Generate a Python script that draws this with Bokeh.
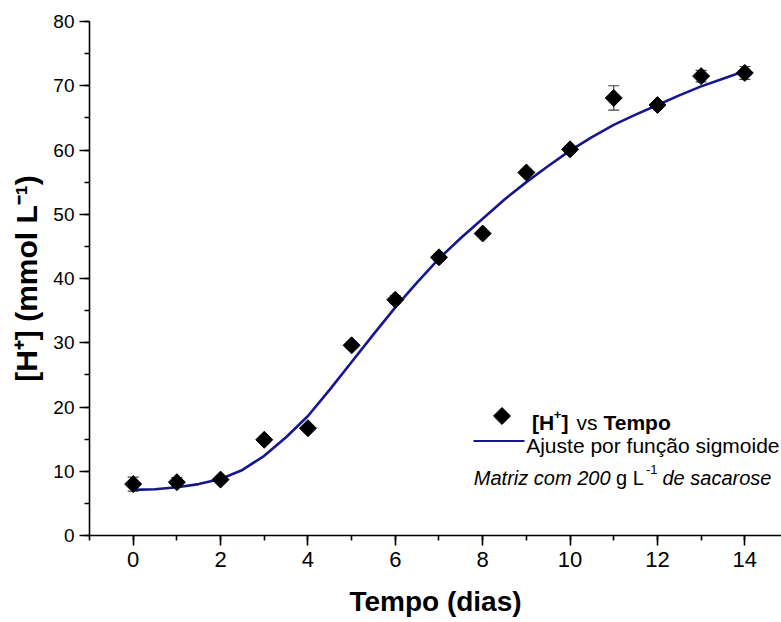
from bokeh.plotting import figure
from bokeh.models import (Range1d, SingleIntervalTicker, Label, Whisker, TeeHead,
                          ColumnDataSource)
from bokeh.embed import file_html
from bokeh.resources import INLINE

# ---- data ----
tempo = [0, 1, 2, 3, 4, 5, 6, 7, 8, 9, 10, 11, 12, 13, 14]
h_conc = [8.0, 8.3, 8.7, 14.9, 16.7, 29.6, 36.7, 43.3, 47.0, 56.5, 60.1, 68.1, 67.0, 71.5, 72.0]
h_err = [1.1, 0.7, 0.4, 0.5, 0.4, 0.5, 0.6, 0.5, 0.4, 0.5, 0.5, 1.9, 0.5, 0.9, 1.0]

fit_t = [0, 0.5, 1, 1.5, 2, 2.5, 3, 3.5, 4, 4.5, 5, 5.5, 6, 6.5, 7, 7.5, 8, 8.5,
         9, 9.5, 10, 10.5, 11, 11.5, 12, 12.5, 13, 13.5, 14]
fit_y = [7.1, 7.2, 7.5, 8.0, 8.8, 10.2, 12.4, 15.3, 18.6, 22.7, 27.0, 31.3, 35.5,
         39.4, 43.1, 46.3, 49.3, 52.3, 55.0, 57.5, 59.9, 62.0, 63.9, 65.5, 67.0,
         68.5, 69.9, 71.1, 72.3]

x_ticks_step = 2
y_ticks_step = 10

X0, X1 = -1.0, 14.84
Y0, Y1 = 0.0, 80.0

W, H = 781, 622
FL, FT, FB = 89, 21, 87
FW = W - FL
FH = H - FT - FB


def dx(px):
    return X0 + (px - FL) / FW * (X1 - X0)


def dy(py):
    return Y1 - (py - FT) / FH * (Y1 - Y0)


FONT = "Liberation Sans"

p = figure(width=W, height=H, x_range=Range1d(X0, X1), y_range=Range1d(Y0, Y1),
           output_backend="svg", toolbar_location=None,
           min_border_left=FL, min_border_right=0, min_border_top=FT,
           min_border_bottom=FB)
p.background_fill_color = "white"
p.border_fill_color = "white"
p.outline_line_color = None
p.xgrid.visible = False
p.ygrid.visible = False

p.xaxis.ticker = SingleIntervalTicker(interval=x_ticks_step, num_minor_ticks=2)
p.yaxis.ticker = SingleIntervalTicker(interval=y_ticks_step, num_minor_ticks=2)

for ax in (p.xaxis[0], p.yaxis[0]):
    ax.axis_line_width = 1.6
    ax.axis_line_color = "black"
    ax.major_tick_line_width = 1.6
    ax.minor_tick_line_width = 1.6
    ax.major_tick_line_color = "black"
    ax.minor_tick_line_color = "black"
    ax.major_tick_in = 0
    ax.major_tick_out = 10
    ax.minor_tick_in = 0
    ax.minor_tick_out = 5
    ax.major_label_text_color = "black"
    ax.axis_label_text_color = "black"
    ax.major_label_text_font = FONT
    ax.axis_label_text_font = FONT
    ax.axis_label_text_font_style = "bold"

p.xaxis.major_label_text_font_size = "22px"
p.xaxis.major_label_standoff = 6
p.xaxis.axis_label = "Tempo (dias)"
p.xaxis.axis_label_text_font_size = "28px"
p.xaxis.axis_label_standoff = 16

p.yaxis.major_label_text_font_size = "19px"
p.yaxis.major_label_standoff = 5
p.yaxis.axis_label = "[H⁺] (mmol L⁻¹)"
p.yaxis.axis_label_text_font_size = "30px"
p.yaxis.axis_label_standoff = 7

# ---- data ----
src = ColumnDataSource(dict(
    x=tempo, y=h_conc,
    lower=[v - e for v, e in zip(h_conc, h_err)],
    upper=[v + e for v, e in zip(h_conc, h_err)],
))

p.line(fit_t, fit_y, line_color="#161690", line_width=2.6)

wh = Whisker(base="x", lower="lower", upper="upper", source=src,
             line_color="#444444", line_width=1.2,
             lower_head=TeeHead(size=11, line_color="#444444", line_width=1.2),
             upper_head=TeeHead(size=11, line_color="#444444", line_width=1.2))
p.add_layout(wh)

p.scatter("x", "y", source=src, marker="square", angle=0.785398, size=12,
          fill_color="black", line_color="black")

# ---- legend (drawn by hand) ----
LS = "21px"
LS3 = "20px"
SUP = "13px"

p.scatter([dx(501.5)], [dy(415.5)], marker="square", angle=0.785398, size=12,
          fill_color="black", line_color="black")


def lab(px, py, text, style="normal", size=LS):
    p.add_layout(Label(x=dx(px), y=dy(py), text=text, text_font=FONT,
                       text_font_style=style, text_font_size=size,
                       text_baseline="alphabetic", text_align="left",
                       text_color="black"))


# row 1
lab(531.5, 421.7, "[H", "bold")
lab(553.2, 413.5, "+", "bold", SUP)
lab(561.0, 421.7, "]", "bold")
lab(576.0, 421.7, "vs")
lab(603.0, 421.7, "Tempo", "bold")

# row 2
p.line([dx(473), dx(524)], [dy(440.5), dy(440.5)], line_color="#161690",
       line_width=2.2)
lab(525.7, 445.0, "Ajuste por função sigmoide")

# row 3
lab(473.3, 477.0, "Matriz com 200", "italic", LS3)
lab(615.6, 477.0, "g L", "normal", LS3)
lab(645.5, 469.0, "-1", "normal", SUP)
lab(662.0, 477.0, "de sacarose", "italic", LS3)

open("out.html", "w").write(file_html(p, INLINE))
